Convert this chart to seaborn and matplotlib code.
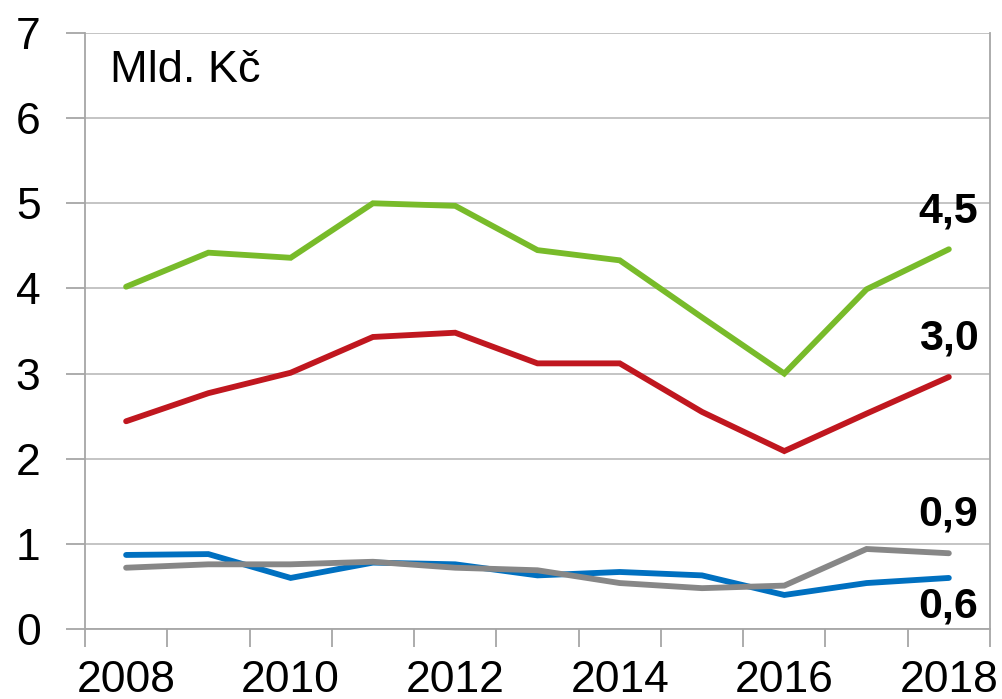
import matplotlib
matplotlib.use("Agg")
import matplotlib.pyplot as plt
import seaborn as sns
import pandas as pd
import numpy as np

years = [2008, 2009, 2010, 2011, 2012, 2013, 2014, 2015, 2016, 2017, 2018]
green = [4.02, 4.42, 4.36, 5.00, 4.97, 4.45, 4.33, 3.66, 3.00, 3.99, 4.46]
red = [2.44, 2.77, 3.01, 3.43, 3.48, 3.12, 3.12, 2.55, 2.09, 2.53, 2.96]
blue = [0.87, 0.88, 0.60, 0.78, 0.76, 0.63, 0.67, 0.63, 0.40, 0.54, 0.60]
gray = [0.72, 0.76, 0.76, 0.79, 0.72, 0.69, 0.54, 0.48, 0.51, 0.94, 0.89]
series_names = ["A", "B", "C", "D"]
series_values = [green, red, blue, gray]
colors = ["#78BB2A", "#C0171F", "#0070C0", "#878787"]
unit_label = "Mld. Kč"

sns.set_style("white")
plt.rcParams["font.family"] = ["Liberation Sans", "DejaVu Sans"]
plt.rcParams["text.color"] = "black"
plt.rcParams["xtick.color"] = "black"
plt.rcParams["ytick.color"] = "black"

rows = []
for name, vals in zip(series_names, series_values):
    for i, v in enumerate(vals):
        rows.append({"x": i, "value": v, "series": name})
df = pd.DataFrame(rows)

fig = plt.figure(figsize=(10.02, 6.99), dpi=100)
ax = fig.add_axes([0.0848, 0.1001, 0.9032, 0.8527])

sns.lineplot(data=df, x="x", y="value", hue="series", palette=colors,
             linewidth=4.2, ax=ax, legend=False, sort=False)
for line in ax.get_lines():
    line.set_solid_capstyle("round")
    line.set_solid_joinstyle("miter")

n = len(years)
ax.set_xlim(-0.5, n - 0.5)
ax.set_ylim(0, 7)
ax.set_yticks(range(0, 8))
ax.set_yticklabels([str(v) for v in range(0, 8)])
ax.grid(axis="y", color="#BFBFBF", linewidth=1.3)
ax.set_axisbelow(True)

# category boundaries as major ticks, labels as minor ticks
ax.set_xticks(np.arange(-0.5, n, 1.0))
ax.set_xticklabels([])
ax.set_xticks(range(0, n, 2), minor=True)
ax.set_xticklabels([str(years[i]) for i in range(0, n, 2)], minor=True)
ax.tick_params(axis="x", which="major", length=13, width=1.3, color="#A6A6A6", direction="out", bottom=True)
ax.tick_params(axis="x", which="minor", length=0, pad=22, labelsize=32, labelcolor="black")
ax.tick_params(axis="y", which="major", length=14, width=1.3, color="#A6A6A6", direction="out", left=True, pad=18, labelsize=32, labelcolor="black")

for side in ["left", "right", "bottom"]:
    ax.spines[side].set_visible(True)
    ax.spines[side].set_color("#A6A6A6")
    ax.spines[side].set_linewidth(1.3)
ax.spines["top"].set_visible(False)
ax.set_xlabel("")
ax.set_ylabel("")

ax.text(0.0276, 0.918, unit_label, transform=ax.transAxes, fontsize=32.5,
        ha="left", va="baseline", color="black")

label_y = [4.77, 3.28, 0.13, 1.22]
for vals, ly in zip(series_values, label_y):
    txt = f"{vals[-1]:.1f}".replace(".", ",")
    ax.text(n - 1 + 0.36, ly, txt, fontsize=31, fontweight="bold",
            ha="right", va="baseline", color="black")

fig.savefig("out.png", dpi=100)
